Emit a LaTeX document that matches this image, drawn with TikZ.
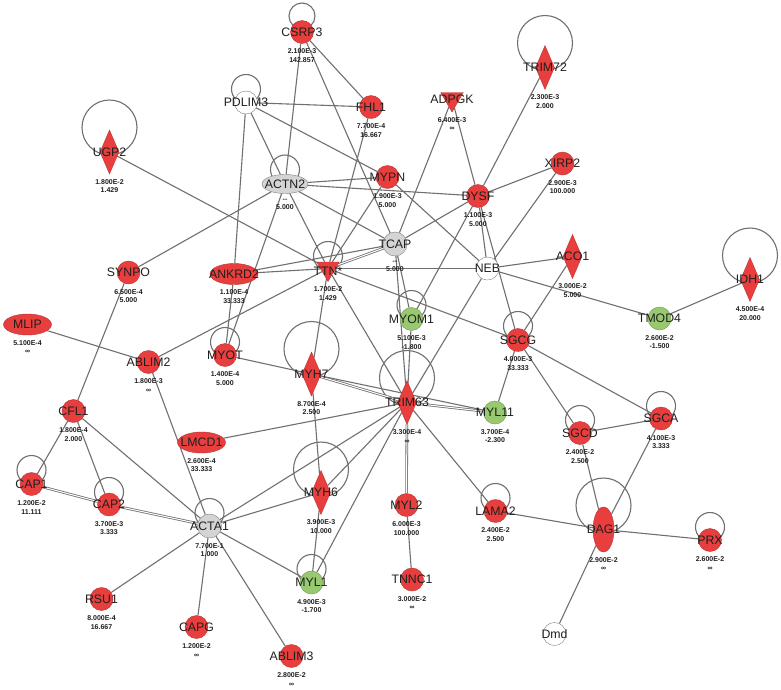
\documentclass[tikz,border=0pt]{standalone}
\usepackage{fontspec}
\setmainfont{Liberation Sans}
\usetikzlibrary{shapes.geometric,backgrounds}

\definecolor{upred}{RGB}{232,62,62}
\definecolor{downgreen}{RGB}{152,201,112}
\definecolor{hubgray}{RGB}{212,212,212}
\definecolor{linkgray}{RGB}{112,112,112}

\tikzset{
  gene/.style={inner sep=0pt, line width=0.4pt},
  upcirc/.style={gene, circle, fill=upred, draw=upred!80!black, minimum size=23pt},
  downcirc/.style={gene, circle, fill=downgreen, draw=downgreen!75!black, minimum size=23pt},
  hubcirc/.style={gene, circle, fill=hubgray, draw=gray, minimum size=24pt},
  emptycirc/.style={gene, circle, fill=white, draw=gray, minimum size=23pt},
  upell/.style={gene, ellipse, fill=upred, draw=upred!80!black, minimum width=48pt, minimum height=21pt},
  updiam/.style={gene, diamond, fill=upred, draw=upred!80!black, minimum width=19pt, minimum height=44pt},
  uptri/.style={gene, regular polygon, regular polygon sides=3, shape border rotate=180,
    fill=upred, draw=upred!80!black, minimum size=26pt},
  symtext/.style={font=\fontsize{12.3}{12}\selectfont, text=black!88, inner sep=0pt},
  valtext/.style={font=\fontsize{7}{8.3}\selectfont\bfseries, align=center,
    inner sep=0pt, label distance=5pt, text=black!88},
  sym/.style={label={[symtext]center:#1}},
  vals/.style 2 args={label={[valtext]below:{#1\\#2}}},
  link/.style={draw=linkgray, line width=1.1pt},
  dbl/.style={draw=linkgray, line width=0.8pt, double=white, double distance=1pt},
  selfloop/.style={draw=linkgray, line width=1.1pt},
}

\begin{document}
\begin{tikzpicture}[x=1pt,y=-1pt]
  \useasboundingbox (0,0) rectangle (781,689);
  % top row
  \node[upcirc, sym=CSRP3, vals={2.100E-3}{142.857}] (CSRP3) at (302,32) {};
  \node[upcirc, sym=FHL1, vals={7.700E-4}{16.667}] (FHL1) at (371,107) {};
  \node[uptri, sym=ADPGK, vals={6.400E-3}{∞}] (ADPGK) at (452,99) {};
  \node[updiam, sym=TRIM72, vals={2.300E-3}{2.000}] (TRIM72) at (545,67.5) {};
  \node[emptycirc, sym=PDLIM3] (PDLIM3) at (246,102.5) {};
  \node[updiam, sym=UGP2, vals={1.800E-2}{1.429}] (UGP2) at (109.5,152) {};
  \node[gene, ellipse, fill=hubgray, draw=gray, minimum width=46pt, minimum height=19pt,
    sym=ACTN2, vals={{-}{-}}{5.000}] (ACTN2) at (285,184) {};
  \node[upcirc, sym=MYPN, vals={1.900E-3}{5.000}] (MYPN) at (387.5,177) {};
  \node[upcirc, sym=DYSF, vals={1.100E-3}{5.000}] (DYSF) at (478,196) {};
  \node[upcirc, sym=XIRP2, vals={2.900E-3}{100.000}] (XIRP2) at (562.5,163.5) {};
  % middle band
  \node[hubcirc, sym=TCAP, vals={{-}{-}}{5.000}] (TCAP) at (395,244) {};
  \node[uptri, label={[symtext,yshift=-2.5pt]center:TTN*}, vals={1.700E-2}{1.429}] (TTN) at (328,268.5) {};
  \node[emptycirc, sym=NEB] (NEB) at (487.5,268.5) {};
  \node[upell, sym=ANKRD2, vals={1.100E-4}{33.333}] (ANKRD2) at (234,274) {};
  \node[upcirc, sym=SYNPO, vals={6.500E-4}{5.000}] (SYNPO) at (128.5,272.5) {};
  \node[updiam, sym=ACO1, vals={3.000E-2}{5.000}] (ACO1) at (572.5,256.5) {};
  \node[updiam, sym=IDH1, vals={4.500E-4}{20.000}] (IDH1) at (750,279.5) {};
  \node[downcirc, sym=TMOD4, vals={2.600E-2}{-1.500}] (TMOD4) at (659.5,318.5) {};
  \node[downcirc, sym=MYOM1, vals={5.100E-3}{-1.800}] (MYOM1) at (411.5,319) {};
  \node[upell, sym=MLIP, vals={5.100E-4}{∞}] (MLIP) at (27.5,324.5) {};
  \node[upcirc, sym=ABLIM2, vals={1.800E-3}{∞}] (ABLIM2) at (148.5,362) {};
  \node[upcirc, sym=MYOT, vals={1.400E-4}{5.000}] (MYOT) at (225,355) {};
  \node[upcirc, sym=SGCG, vals={4.000E-3}{33.333}] (SGCG) at (518,340) {};
  \node[updiam, sym=MYH7, vals={8.700E-4}{2.500}] (MYH7) at (311.5,374) {};
  \node[updiam, sym=TRIM63, vals={3.300E-4}{∞}] (TRIM63) at (407,402.5) {};
  \node[downcirc, sym=MYL11, vals={3.700E-4}{-2.300}] (MYL11) at (495,412.5) {};
  \node[upcirc, sym=SGCD, vals={2.400E-2}{2.500}] (SGCD) at (580,433) {};
  \node[upcirc, sym=SGCA, vals={4.100E-3}{3.333}] (SGCA) at (661,418.5) {};
  % lower part
  \node[upcirc, sym=CFL1, vals={1.800E-4}{2.000}] (CFL1) at (73.5,411) {};
  \node[upell, sym=LMCD1, vals={2.600E-4}{33.333}] (LMCD1) at (201.5,442.5) {};
  \node[upcirc, sym=CAP1, vals={1.200E-2}{11.111}] (CAP1) at (31.5,484) {};
  \node[upcirc, sym=CAP2, vals={3.700E-3}{3.333}] (CAP2) at (109,504.5) {};
  \node[hubcirc, sym=ACTA1, vals={7.700E-1}{1.000}] (ACTA1) at (209.5,526) {};
  \node[updiam, sym=MYH6, vals={3.900E-3}{10.000}] (MYH6) at (321,492.5) {};
  \node[upcirc, sym=MYL2, vals={6.000E-3}{100.000}] (MYL2) at (406.5,505) {};
  \node[upcirc, sym=LAMA2, vals={2.400E-2}{2.500}] (LAMA2) at (495.5,511) {};
  \node[gene, ellipse, fill=upred, draw=upred!80!black, minimum width=21pt, minimum height=45pt,
    sym=DAG1, vals={2.900E-2}{∞}] (DAG1) at (603.5,529.5) {};
  \node[upcirc, sym=PRX, vals={2.600E-2}{∞}] (PRX) at (710,540) {};
  \node[downcirc, sym=MYL1, vals={4.900E-3}{-1.700}] (MYL1) at (311.5,582.5) {};
  \node[upcirc, sym=TNNC1, vals={3.000E-2}{∞}] (TNNC1) at (412,579.5) {};
  \node[upcirc, sym=RSU1, vals={8.000E-4}{16.667}] (RSU1) at (101.5,599) {};
  \node[upcirc, sym=CAPG, vals={1.200E-2}{∞}] (CAPG) at (196.5,627) {};
  \node[upcirc, sym=ABLIM3, vals={2.800E-2}{∞}] (ABLIM3) at (291.5,656) {};
  \node[emptycirc, sym=Dmd] (Dmd) at (554.5,634) {};

  \begin{scope}[on background layer]
    \fill[white] (0,0) rectangle (781,689);
    % self loops
    \draw[selfloop] ([yshift=16pt]CSRP3.center) circle[radius=13pt];
    \draw[selfloop] ([yshift=13.5pt]PDLIM3.center) circle[radius=14.5pt];
    \draw[selfloop] ([yshift=14.5pt]ACTN2.center) circle[radius=14.5pt];
    \draw[selfloop] ([yshift=12.5pt]TTN.center) circle[radius=14.5pt];
    \draw[selfloop] ([yshift=14pt]MYOM1.center) circle[radius=14.5pt];
    \draw[selfloop] ([yshift=13pt]MYOT.center) circle[radius=14.5pt];
    \draw[selfloop] ([yshift=14pt]SGCG.center) circle[radius=14.5pt];
    \draw[selfloop] ([yshift=13pt]SGCD.center) circle[radius=14.5pt];
    \draw[selfloop] ([yshift=12.5pt]SGCA.center) circle[radius=14.5pt];
    \draw[selfloop] ([yshift=14pt]CAP1.center) circle[radius=14.5pt];
    \draw[selfloop] ([yshift=12.5pt]CAP2.center) circle[radius=14.5pt];
    \draw[selfloop] ([yshift=13pt]ACTA1.center) circle[radius=14.5pt];
    \draw[selfloop] ([yshift=13pt]LAMA2.center) circle[radius=14.5pt];
    \draw[selfloop] ([yshift=13pt]PRX.center) circle[radius=14.5pt];
    \draw[selfloop] ([yshift=13.5pt]MYL1.center) circle[radius=14.5pt];
    \draw[selfloop] ([yshift=24.5pt]UGP2.center) circle[radius=27.5pt];
    \draw[selfloop] ([yshift=24.5pt]TRIM72.center) circle[radius=27.5pt];
    \draw[selfloop] ([yshift=24pt]IDH1.center) circle[radius=27.5pt];
    \draw[selfloop] ([yshift=25pt]MYH7.center) circle[radius=27.5pt];
    \draw[selfloop] ([yshift=24.5pt]TRIM63.center) circle[radius=27.5pt];
    \draw[selfloop] ([yshift=23pt]MYH6.center) circle[radius=27.5pt];
    \draw[selfloop] ([yshift=24pt]DAG1.center) circle[radius=27.5pt];
    % links
    \draw[link] (CSRP3) -- (ACTN2);
    \draw[link] (CSRP3) -- (FHL1);
    \draw[link] (CSRP3) -- (TCAP);
    \draw[link] (PDLIM3) -- (FHL1);
    \draw[link] (PDLIM3) -- (MYPN);
    \draw[link] (PDLIM3) -- (ACTN2);
    \draw[link] (PDLIM3) -- (ANKRD2);
    \draw[link] (FHL1) -- (TTN);
    \draw[link] (ADPGK) -- (TCAP);
    \draw[link] (ADPGK) -- (DYSF);
    \draw[link] (TRIM72) -- (DYSF);
    \draw[link] (UGP2) -- (TTN);
    \draw[link] (ACTN2) -- (SYNPO);
    \draw[link] (ACTN2) -- (MYOT);
    \draw[link] (ACTN2) -- (MYPN);
    \draw[link] (ACTN2) -- (DYSF);
    \draw[link] (ACTN2) -- (TCAP);
    \draw[link] (ACTN2) -- (TTN);
    \draw[link] (MYPN) -- (TTN);
    \draw[link] (MYPN) -- (NEB);
    \draw[link] (DYSF) -- (TCAP);
    \draw[link] (DYSF) -- (XIRP2);
    \draw[link] (DYSF) -- (NEB);
    \draw[link] (DYSF) -- (SGCG);
    \draw[link] (DYSF) -- (MYOM1);
    \draw[link] (XIRP2) -- (NEB);
    \draw[dbl] (TCAP) -- (TTN);
    \draw[link] (TCAP) -- (ANKRD2);
    \draw[link] (TCAP) -- (MYOM1);
    \draw[link] (TCAP) -- (TRIM63);
    \draw[link] (TTN) -- (ANKRD2);
    \draw[link] (TTN) -- (ABLIM2);
    \draw[link] (TTN) -- (NEB);
    \draw[link] (TTN) -- (SGCG);
    \draw[link] (TTN) -- (TRIM63);
    \draw[link] (TTN) -- (MYH7);
    \draw[link] (NEB) -- (ACO1);
    \draw[link] (NEB) -- (TMOD4);
    \draw[link] (NEB) -- (TRIM63);
    \draw[link] (ACO1) -- (SGCG);
    \draw[link] (TMOD4) -- (IDH1);
    \draw[link] (MYOM1) -- (TRIM63);
    \draw[link] (MLIP) -- (ABLIM2);
    \draw[link] (ABLIM2) -- (ACTA1);
    \draw[link] (ANKRD2) -- (MYOT);
    \draw[link] (MYOT) -- (MYH7);
    \draw[link] (SYNPO) -- (CFL1);
    \draw[link] (SGCG) -- (SGCD);
    \draw[link] (SGCG) -- (SGCA);
    \draw[link] (SGCG) -- (MYL11);
    \draw[link] (SGCD) -- (SGCA);
    \draw[link] (SGCD) -- (DAG1);
    \draw[link] (SGCA) -- (DAG1);
    \draw[dbl] (MYH7) -- (TRIM63);
    \draw[link] (MYH7) -- (MYH6);
    \draw[link] (MYH7) -- (MYL11);
    \draw[dbl] (TRIM63) -- (MYL11);
    \draw[link] (TRIM63) -- (LMCD1);
    \draw[link] (TRIM63) -- (ACTA1);
    \draw[link] (TRIM63) -- (MYH6);
    \draw[link] (TRIM63) -- (MYL1);
    \draw[dbl] (TRIM63) -- (MYL2);
    \draw[link] (TRIM63) -- (LAMA2);
    \draw[link] (LAMA2) -- (DAG1);
    \draw[link] (DAG1) -- (PRX);
    \draw[link] (DAG1) -- (Dmd);
    \draw[link] (MYL2) -- (TNNC1);
    \draw[link] (CFL1) -- (CAP1);
    \draw[link] (CFL1) -- (CAP2);
    \draw[link] (CFL1) -- (ACTA1);
    \draw[dbl] (CAP1) -- (CAP2);
    \draw[dbl] (CAP2) -- (ACTA1);
    \draw[link] (ACTA1) -- (MYH6);
    \draw[link] (ACTA1) -- (MYL1);
    \draw[link] (ACTA1) -- (ABLIM3);
    \draw[link] (ACTA1) -- (CAPG);
    \draw[link] (ACTA1) -- (RSU1);
    \draw[link] (MYH6) -- (MYL1);
  \end{scope}
\end{tikzpicture}
\end{document}
